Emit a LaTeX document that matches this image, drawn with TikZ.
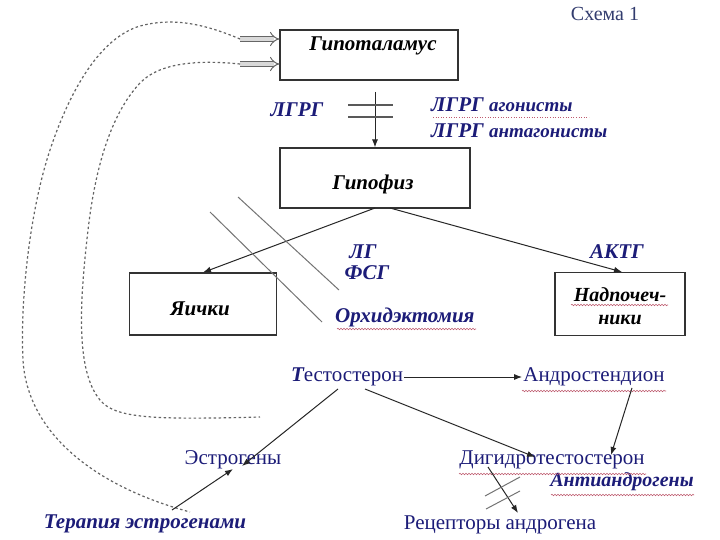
\documentclass[tikz,border=0pt]{standalone}
\usepackage{fontspec}
\setmainfont{Liberation Serif}
\usetikzlibrary{arrows.meta,decorations.pathmorphing}
\definecolor{navy}{RGB}{28,28,120}
\definecolor{schemecol}{RGB}{50,60,110}
\definecolor{dashgray}{RGB}{100,100,100}
\definecolor{spellred}{RGB}{190,90,110}
\tikzset{
  box/.style={draw=black!80, line width=1.1pt, inner sep=0pt},
  boxtext/.style={font=\fontsize{21}{24}\selectfont\bfseries\itshape, text=black},
  bluelab/.style={font=\fontsize{21}{24}\selectfont\bfseries\itshape, text=navy, inner sep=1pt},
  chem/.style={font=\fontsize{21}{24}\selectfont, text=navy, inner sep=1pt},
  conn/.style={draw=black!85, line width=1pt, -{Latex[length=8pt,width=6pt]}},
  hollow/.style={draw=black!60, double=black!15, double distance=4pt, line width=1pt, -{Implies}},
  dashcurve/.style={draw=dashgray, line width=1.2pt, dash pattern=on 2.5pt off 2.5pt},
  cutline/.style={draw=black!55, line width=1pt},
  spell/.style={draw=spellred, line width=0.6pt, decorate, decoration={snake, amplitude=0.7pt, segment length=3pt}}
}
\begin{document}
\begin{tikzpicture}[x=1pt,y=-1pt]
\useasboundingbox (0,0) rectangle (720,540);
\fill[white] (0,0) rectangle (720,540);

% title
\node[font=\fontsize{20}{22}\selectfont, text=schemecol] (title) at (605,14) {Схема 1};

% boxes
\node[box, minimum width=178pt, minimum height=50pt] (hyp) at (369,55) {};
\node[boxtext] (hyptext) at (373,46) {Гипоталамус};
\node[box, minimum width=190pt, minimum height=60pt] (hypo) at (375,178) {};
\node[boxtext] (hypotext) at (373,184) {Гипофиз};
\node[box, minimum width=147pt, minimum height=62pt] (test) at (203,304) {};
\node[boxtext] (testtext) at (200,309) {Яички};
\node[box, minimum width=130pt, minimum height=63pt] (adr) at (620,304) {};
\node[boxtext, align=center, font=\fontsize{20}{23}\selectfont\bfseries\itshape] (adrtext) at (620,306) {Надпочеч-\\ники};

% hollow arrows into hypothalamus
\coordinate (h1) at (hyp.west |- 0,39);
\coordinate (h2) at (hyp.west |- 0,64);
\coordinate (t1) at (240,39);
\coordinate (t2) at (240,64);
\draw[hollow] (t1) -- (h1);
\draw[hollow] (t2) -- (h2);

% dashed feedback curves
\coordinate (e1) at (190,512);
\coordinate (e2) at (260,417);
\draw[dashcurve] (t1) .. controls (200,22) and (170,18) .. (140,26)
   .. controls (100,38) and (70,90) .. (50,150)
   .. controls (30,210) and (20,300) .. (23,360)
   .. controls (27,430) and (90,485) .. (e1);
\draw[dashcurve] (t2) .. controls (200,60) and (160,62) .. (140,83)
   .. controls (110,115) and (95,170) .. (88,230)
   .. controls (80,300) and (75,370) .. (100,400)
   .. controls (115,418) and (150,420) .. (e2);

% LHRH
\node[bluelab] (lhrh) at (297,110) {ЛГРГ};
\coordinate (pt) at (hypo.north -| 375,0);
\draw[conn] (375,92) -- (pt);
\coordinate (b1a) at (348,105); \coordinate (b1b) at (393,105);
\coordinate (b2a) at (348,117); \coordinate (b2b) at (393,117);
\draw[cutline, draw=black!65, line width=1.3pt] (b1a) -- (b1b);
\draw[cutline, draw=black!65, line width=1.3pt] (b2a) -- (b2b);
\node[bluelab, anchor=west] (agon) at (430,105) {ЛГРГ {\fontsize{19}{21}\selectfont агонисты}};
\node[bluelab, anchor=west] (antag) at (430,131) {ЛГРГ {\fontsize{19}{21}\selectfont антагонисты}};
\draw[spellred, line width=0.6pt, dotted] (433,117) -- (589,117);

% pituitary outputs
\draw[conn] (375,208) -- (test.north -| 203,0);
\draw[conn] (390,208) -- (adr.north -| 622,0);
\node[bluelab] (lg) at (363,252) {ЛГ};
\node[bluelab] (fsg) at (367,273) {ФСГ};
\node[bluelab] (acth) at (617,252) {АКТГ};

% orchiectomy cut lines
\coordinate (c1a) at (210,212); \coordinate (c1b) at (322,322);
\coordinate (c2a) at (238,197); \coordinate (c2b) at (339,290);
\draw[cutline] (c1a) -- (c1b);
\draw[cutline] (c2a) -- (c2b);
\node[bluelab, anchor=west] (orch) at (334,317) {Орхидэктомия};
\draw[spell] (337,329) -- (476,329);
\draw[spell] (571,305) -- (668,305);

% steroids
\node[chem] (testo) at (347,377) {{\bfseries\itshape Т}естостерон};
\node[chem] (andro) at (594,377) {Андростендион};
\node[chem] (estr) at (233,460) {Эстрогены};
\node[chem] (dht) at (552,460) {Дигидротестостерон};
\node[bluelab, font=\fontsize{20}{22}\selectfont\bfseries\itshape] (anti) at (622,482) {Антиандрогены};
\node[bluelab] (ther) at (145,524) {Терапия эстрогенами};
\node[chem] (recep) at (500,525) {Рецепторы андрогена};
\draw[spell] (522,391) -- (666,391);
\draw[spell] (459,474) -- (646,474);
\draw[spell] (551,495) -- (694,495);

\draw[conn] (testo.east) -- (andro.west);
\draw[conn] (338,389) -- (242,466);
\draw[conn] (365,389) -- (535,457);
\draw[conn] (632,388) -- (611,455);
\draw[conn] (172,510) -- (233,469);
\draw[conn] (488,467) -- (518,513);
\coordinate (d1a) at (485,496); \coordinate (d1b) at (520,477);
\coordinate (d2a) at (486,509); \coordinate (d2b) at (520,491);
\draw[cutline] (d1a) -- (d1b);
\draw[cutline] (d2a) -- (d2b);
\end{tikzpicture}
\end{document}
